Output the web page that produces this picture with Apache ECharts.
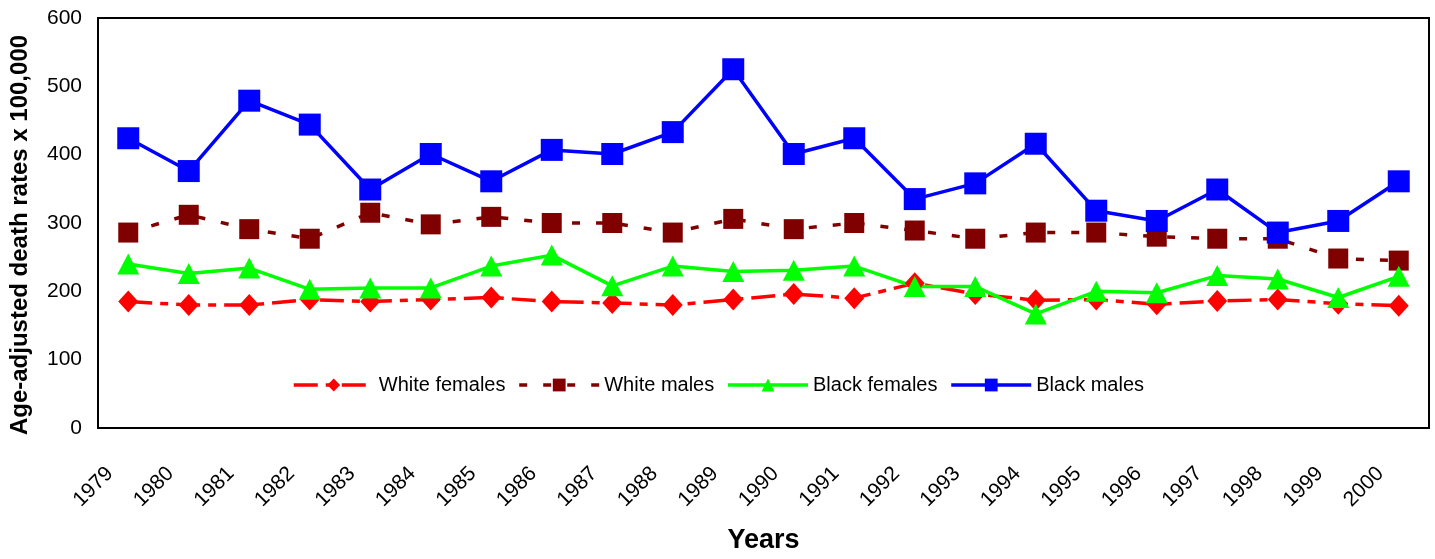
<!DOCTYPE html>
<html>
<head>
<meta charset="utf-8">
<script src="https://cdn.jsdelivr.net/npm/echarts@6/dist/echarts.min.js"></script>
<style>
  html, body { margin: 0; padding: 0; background: #ffffff; }
  #chart { width: 1435px; height: 559px; }
</style>
</head>
<body>
<div id="chart"></div>
<script>
// Age-adjusted death rates per 100,000 by race and sex, 1979-2000
const years = ['1979','1980','1981','1982','1983','1984','1985','1986','1987','1988','1989',
               '1990','1991','1992','1993','1994','1995','1996','1997','1998','1999','2000'];
const whiteFemales = [185, 180, 180, 188, 185, 188, 191, 185, 183, 180, 188,
                      196, 190, 212, 196, 187, 188, 181, 186, 188, 182, 179];
const whiteMales   = [286, 312, 291, 277, 315, 298, 309, 300, 300, 286, 306,
                      291, 300, 289, 277, 286, 286, 280, 277, 277, 248, 245];
const blackFemales = [240, 226, 234, 203, 205, 205, 237, 253, 208, 237, 229,
                      231, 237, 207, 207, 167, 200, 198, 223, 218, 191, 222];
const blackMales   = [424, 376, 479, 444, 349, 401, 361, 407, 401, 433, 525,
                      401, 424, 335, 358, 416, 318, 303, 349, 286, 303, 361];
const yTicks = { min: 0, max: 600, step: 100 };

const FONT = '"Liberation Sans", Arial, sans-serif';

const chart = echarts.init(document.getElementById('chart'), null, { renderer: 'canvas' });

function lineSeries(name, values, color, symbol, size, dash) {
  return {
    name: name,
    type: 'line',
    data: values,
    symbol: symbol,
    symbolSize: size,
    showAllSymbol: true,
    itemStyle: { color: color },
    lineStyle: { color: color, width: 3.5, type: dash },
    emphasis: { disabled: true },
    animation: false
  };
}

chart.setOption({
  backgroundColor: '#ffffff',
  animation: false,
  grid: {
    left: 96, right: 6, top: 18, bottom: 125,
    show: true, borderColor: '#000000', borderWidth: 2, backgroundColor: 'transparent'
  },
  legend: {
    left: 287, top: 370,
    itemWidth: 80, itemHeight: 16, itemGap: 12,
    lineStyle: { width: 3.5 },
    textStyle: { fontFamily: FONT, fontSize: 20, color: '#000000' },
    data: ['White females', 'White males', 'Black females', 'Black males']
  },
  xAxis: {
    type: 'category',
    data: years,
    boundaryGap: true,
    name: 'Years',
    nameLocation: 'middle',
    nameGap: 99,
    nameTextStyle: { fontFamily: FONT, fontSize: 27, fontWeight: 'bold', color: '#000000' },
    axisLine: { show: true, lineStyle: { color: '#000000', width: 2 } },
    axisTick: { show: false },
    axisLabel: {
      rotate: 45, margin: 24, interval: 0,
      padding: [0, 26, 0, 0],
      fontFamily: FONT, fontSize: 21, color: '#000000'
    },
    splitLine: { show: false }
  },
  yAxis: {
    type: 'value',
    min: yTicks.min, max: yTicks.max, interval: yTicks.step,
    name: 'Age-adjusted death rates x 100,000',
    nameLocation: 'middle',
    nameGap: 66,
    nameRotate: 90,
    nameTextStyle: {
      fontFamily: FONT, fontSize: 24, fontWeight: 'bold', color: '#000000',
      padding: [0, 24, 0, 0]
    },
    axisLine: { show: true, lineStyle: { color: '#000000', width: 2 } },
    axisTick: { show: false },
    axisLabel: { margin: 16, fontFamily: FONT, fontSize: 21, color: '#000000' },
    splitLine: { show: false }
  },
  series: [
    lineSeries('White females', whiteFemales, '#ff0000', 'diamond', [20, 22], [24, 8, 8, 8]),
    lineSeries('White males', whiteMales, '#800000', 'rect', 20, [8, 16]),
    lineSeries('Black females', blackFemales, '#00ff00', 'triangle', [22, 21], 'solid'),
    lineSeries('Black males', blackMales, '#0000ff', 'rect', 22, 'solid')
  ]
});
</script>
</body>
</html>
